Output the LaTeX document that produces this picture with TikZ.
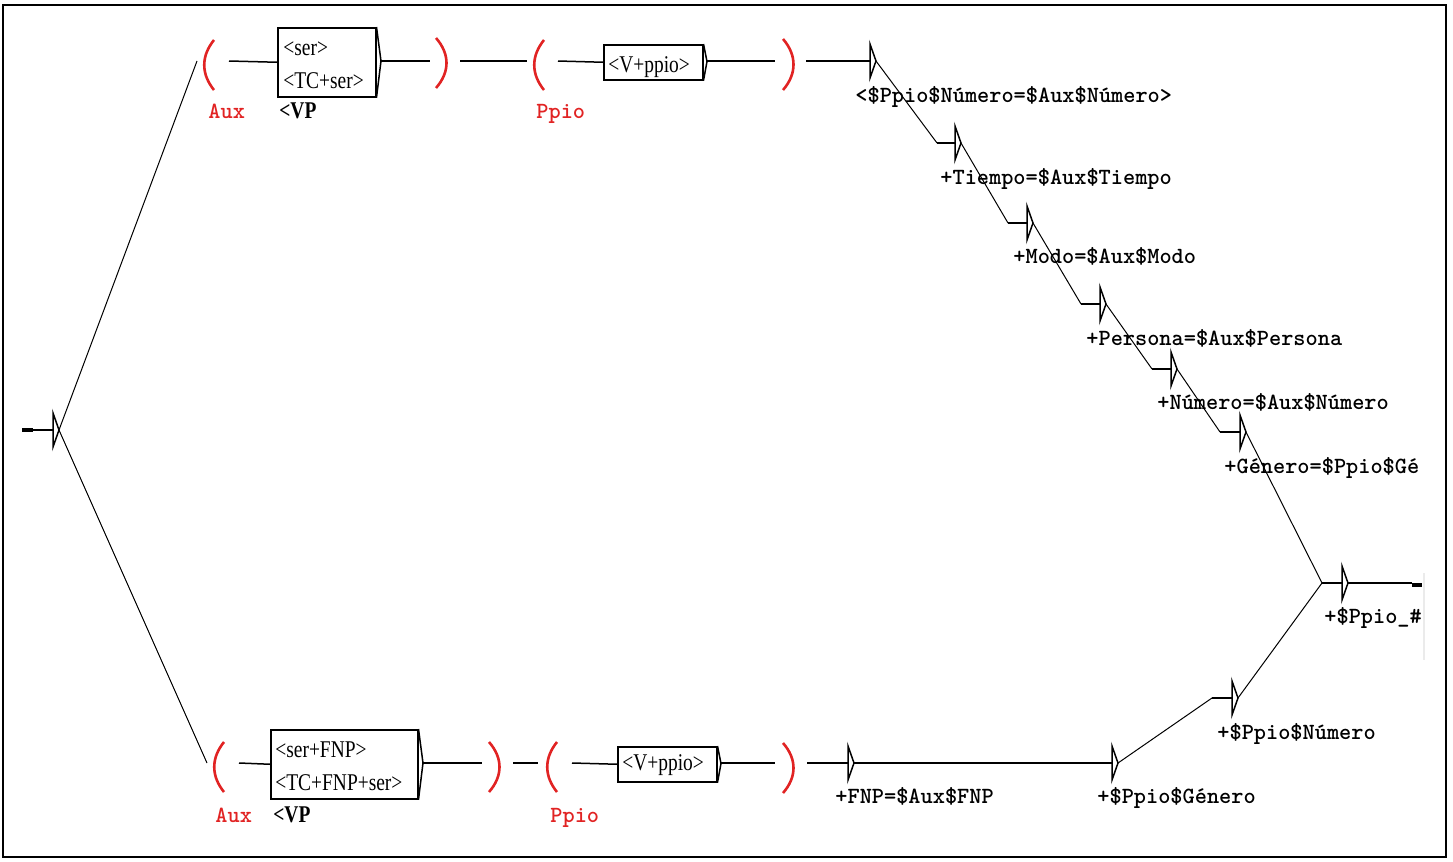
\documentclass[tikz,border=0pt]{standalone}
\usepackage{fontspec}
\usepackage{tikz}
\newfontfamily\boxfont[FakeStretch=0.81]{Liberation Serif}
\definecolor{auxred}{RGB}{225,35,35}

\begin{document}
\begin{tikzpicture}[x=0.5pt, y=-0.5pt,
	wire/.style={black, line width=0.75pt},
	slant/.style={black, line width=0.5pt},
	paren/.style={auxred, line width=1.3pt},
	gbox/.style={draw, line width=0.75pt, inner sep=0pt, anchor=north west},
	boxtxt/.style={anchor=base west, inner sep=0pt, font=\boxfont\fontsize{12}{14}\selectfont},
	vptxt/.style={boxtxt, font=\boxfont\bfseries\fontsize{12}{14}\selectfont},
	outtxt/.style={anchor=base west, inner sep=0pt, font=\ttfamily\bfseries\fontsize{11.6}{13}\selectfont},
	vartxt/.style={outtxt, text=auxred}]
	\useasboundingbox (0,0) rectangle (1453,862);
	\draw[line width=1pt] (3,5) rectangle (1446,857);

	% initial state
	\draw[line width=1.6pt] (22,430) -- (33,430);
	\draw[wire] (33,430) -- (53,430);
	\coordinate (init) at (59,430);
	\draw[wire] (init) -- (53,413) -- (53,447) -- cycle;

	% upper branch: Aux ( ... ) Ppio ( ... )
	\coordinate (oAuxT-i) at (197,61);
	\coordinate (oAuxT-o) at (229,61);
	\draw[paren] (214,40) .. controls (201,56) and (201,74) .. (214,90);
	\node[vartxt] (auxT) at (208,119) {Aux};
	\node[gbox, minimum width=49pt, minimum height=34.5pt] (serT) at (277,27) {};
	\draw[wire] (serT.north east) -- (381,61) -- (serT.south east);
	\coordinate (serT-o) at (381,61);
	\node[boxtxt] (serT1) at (283,55) {<ser>};
	\node[boxtxt] (serT2) at (283,88) {<TC+ser>};
	\node[vptxt] (vpT) at (279,119) {<VP};
	\coordinate (cAuxT-i) at (430,61);
	\coordinate (cAuxT-o) at (460,61);
	\draw[paren] (436,38) .. controls (450,54) and (450,72) .. (436,88);
	\coordinate (oPpT-i) at (527,61);
	\coordinate (oPpT-o) at (558,61);
	\draw[paren] (544,40) .. controls (531,56) and (531,74) .. (544,90);
	\node[vartxt] (ppT) at (536,119) {Ppio};
	\node[gbox, minimum width=49.5pt, minimum height=17.5pt] (ppioT) at (603,44) {};
	\draw[wire] (ppioT.north east) -- (707,61.5) -- (ppioT.south east);
	\coordinate (ppioT-o) at (707,61);
	\node[boxtxt] (ppioT1) at (608,72) {<V+ppio>};
	\coordinate (cPpT-i) at (775,61);
	\coordinate (cPpT-o) at (806,61);
	\draw[paren] (783,39) .. controls (797,55) and (797,74) .. (783,90);

	\draw[wire] (oAuxT-o) -- (serT.west);
	\draw[wire] (serT-o) -- (cAuxT-i);
	\draw[wire] (cAuxT-o) -- (oPpT-i);
	\draw[wire] (oPpT-o) -- (ppioT.west);
	\draw[wire] (ppioT-o) -- (cPpT-i);

	% lower branch
	\coordinate (oAuxB-i) at (207,763);
	\coordinate (oAuxB-o) at (239,763);
	\draw[paren] (224,742) .. controls (211,758) and (211,776) .. (224,792);
	\node[vartxt] (auxB) at (215,822) {Aux};
	\node[gbox, minimum width=73.5pt, minimum height=34.5pt] (serB) at (270,729) {};
	\draw[wire] (serB.north east) -- (423,763) -- (serB.south east);
	\coordinate (serB-o) at (423,763);
	\node[boxtxt] (serB1) at (275,757) {<ser+FNP>};
	\node[boxtxt] (serB2) at (275,790) {<TC+FNP+ser>};
	\node[vptxt] (vpB) at (273,822) {<VP};
	\coordinate (cAuxB-i) at (482,763);
	\coordinate (cAuxB-o) at (513,763);
	\draw[paren] (489,742) .. controls (503,758) and (503,776) .. (489,792);
	\coordinate (oPpB-i) at (538,763);
	\coordinate (oPpB-o) at (572,763);
	\draw[paren] (557,742) .. controls (544,758) and (544,776) .. (557,792);
	\node[vartxt] (ppB) at (550,822) {Ppio};
	\node[gbox, minimum width=49.5pt, minimum height=17.5pt] (ppioB) at (617,746) {};
	\draw[wire] (ppioB.north east) -- (721,763.5) -- (ppioB.south east);
	\coordinate (ppioB-o) at (721,763);
	\node[boxtxt] (ppioB1) at (622,770) {<V+ppio>};
	\coordinate (cPpB-i) at (775,763);
	\coordinate (cPpB-o) at (807,763);
	\draw[paren] (783,743) .. controls (797,759) and (797,777) .. (783,793);

	\draw[wire] (oAuxB-o) -- (serB.west);
	\draw[wire] (serB-o) -- (cAuxB-i);
	\draw[wire] (cAuxB-o) -- (oPpB-i);
	\draw[wire] (oPpB-o) -- (ppioB.west);
	\draw[wire] (ppioB-o) -- (cPpB-i);

	\draw[slant] (init) -- (oAuxT-i);
	\draw[slant] (init) -- (oAuxB-i);

	% output states, upper chain
	\coordinate (st1) at (870,61);  \coordinate (st1t) at (876,61);
	\coordinate (st2) at (955,143); \coordinate (st2t) at (961,143);
	\coordinate (st3) at (1027,223); \coordinate (st3t) at (1033,223);
	\coordinate (st4) at (1100,304); \coordinate (st4t) at (1106,304);
	\coordinate (st5) at (1171,369); \coordinate (st5t) at (1177,369);
	\coordinate (st6) at (1240,432); \coordinate (st6t) at (1246,432);
	\coordinate (st7) at (1342,583); \coordinate (st7t) at (1348,583);
	\draw[wire] (st1t) -- (870,44) -- (870,78) -- cycle;
	\draw[wire] (st2t) -- (955,126) -- (955,160) -- cycle;
	\draw[wire] (st3t) -- (1027,206) -- (1027,240) -- cycle;
	\draw[wire] (st4t) -- (1100,287) -- (1100,321) -- cycle;
	\draw[wire] (st5t) -- (1171,352) -- (1171,386) -- cycle;
	\draw[wire] (st6t) -- (1240,415) -- (1240,449) -- cycle;
	\draw[wire] (st7t) -- (1342,566) -- (1342,600) -- cycle;
	\node[outtxt] (out1) at (855,102) {<\$Ppio\$Número=\$Aux\$Número>};
	\node[outtxt] (out2) at (940,184) {+Tiempo=\$Aux\$Tiempo};
	\node[outtxt] (out3) at (1013,263) {+Modo=\$Aux\$Modo};
	\node[outtxt] (out4) at (1086,345) {+Persona=\$Aux\$Persona};
	\node[outtxt] (out5) at (1157,409) {+Número=\$Aux\$Número};
	\node[outtxt] (out6) at (1224,473) {+Género=\$Ppio\$Gé};
	\node[outtxt] (out7) at (1324,623) {+\$Ppio\_\#};

	\coordinate (st2l) at (937,143);
	\coordinate (st3l) at (1008,223);
	\coordinate (st4l) at (1081,304);
	\coordinate (st5l) at (1152,369);
	\coordinate (st6l) at (1220,432);
	\coordinate (join) at (1322,583);
	\draw[wire] (cPpT-o) -- (st1);
	\draw[slant] (st1t) -- (st2l); \draw[wire] (st2l) -- (st2);
	\draw[slant] (st2t) -- (st3l); \draw[wire] (st3l) -- (st3);
	\draw[slant] (st3t) -- (st4l); \draw[wire] (st4l) -- (st4);
	\draw[slant] (st4t) -- (st5l); \draw[wire] (st5l) -- (st5);
	\draw[slant] (st5t) -- (st6l); \draw[wire] (st6l) -- (st6);
	\draw[slant] (st6t) -- (join); \draw[wire] (join) -- (st7);

	% output states, lower chain
	\coordinate (st10) at (848,763); \coordinate (st10t) at (854,763);
	\coordinate (st9) at (1112,763); \coordinate (st9t) at (1118,763);
	\coordinate (st8) at (1232,698); \coordinate (st8t) at (1238,698);
	\draw[wire] (st10t) -- (848,746) -- (848,780) -- cycle;
	\draw[wire] (st9t) -- (1112,746) -- (1112,780) -- cycle;
	\draw[wire] (st8t) -- (1232,681) -- (1232,715) -- cycle;
	\node[outtxt] (out10) at (835,803) {+FNP=\$Aux\$FNP};
	\node[outtxt] (out9) at (1097,803) {+\$Ppio\$Género};
	\node[outtxt] (out8) at (1217,739) {+\$Ppio\$Número};
	\coordinate (st8l) at (1212,698);
	\draw[wire] (cPpB-o) -- (st10);
	\draw[wire] (st10t) -- (st9);
	\draw[slant] (st9t) -- (st8l); \draw[wire] (st8l) -- (st8);
	\draw[slant] (st8t) -- (join);

	% final state
	\coordinate (fin) at (1412,583);
	\draw[wire] (st7t) -- (fin);
	\draw[line width=1.6pt] (1412,585) -- (1422,585);
	\draw[black!8, line width=1pt] (1424,573) -- (1424,660);
\end{tikzpicture}
\end{document}
